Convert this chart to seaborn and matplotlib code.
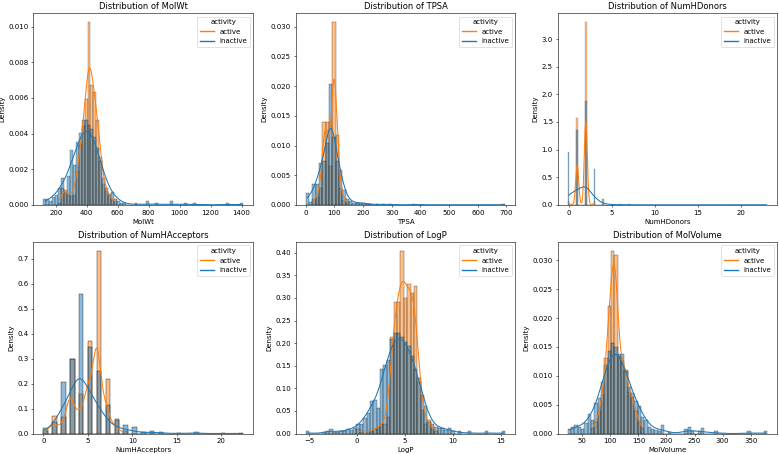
import numpy as np
import matplotlib
matplotlib.use("Agg")
import matplotlib.pyplot as plt
from matplotlib.lines import Line2D
import seaborn as sns

# colours of the two activity classes
c_active = "#ff7f0e"
c_inactive = "#1f77b4"

# --- MolWt: 68 bins between 121 and 1411, density per bin
molwt_bins = (121, 1411, 68)
molwt_active = [0, 0, 0, 0, 0, 0.0001, 0.0010, 0.0009, 0.0006, 0.0005,
                0.0006, 0.0020, 0.0035, 0.0046, 0.0062, 0.0107, 0.0070, 0.0066, 0.0050, 0.0028,
                0.0012, 0.0008, 0.0005, 0.0003, 0.0002]
molwt_inactive = [0.0003, 0.0003, 0.0002, 0.0004, 0.0005, 0.0009, 0.0014, 0.0007, 0.0015, 0.0029,
                  0.0021, 0.0033, 0.0038, 0.0045, 0.0045, 0.0042, 0.0040, 0.0036, 0.0030, 0.0023,
                  0.0014, 0.0009, 0.0006, 0.0007, 0.0003, 0.0002, 0.0001, 0.0001, 0, 0,
                  0, 0.0001, 0, 0, 0, 0.0002, 0, 0, 0.0001, 0,
                  0, 0, 0, 0.0002, 0, 0, 0, 0, 0.0001, 0,
                  0, 0.0001, 0, 0, 0, 0, 0, 0, 0, 0,
                  0, 0, 0.0001, 0, 0, 0, 0, 0.0001]

# --- TPSA: 60 bins between 0 and 696
tpsa_bins = (0, 696, 60)
tpsa_active = [0, 0, 0.0010, 0.0015, 0.0030, 0.0150, 0.0150, 0.0070, 0.0330, 0.0127,
               0.0030, 0.0008, 0.0005]
tpsa_inactive = [0.0021, 0.0005, 0.0035, 0.0036, 0.0072, 0.0075, 0.0105, 0.0205, 0.0115, 0.0075,
                 0.0060, 0.0025, 0.0010, 0.0006, 0.0004, 0.0003, 0.0004, 0.0003, 0.0002, 0.0001,
                 0, 0.0002, 0, 0.0001, 0, 0.0002, 0, 0, 0, 0,
                 0, 0, 0.0002, 0, 0, 0, 0, 0, 0, 0,
                 0, 0, 0, 0, 0, 0, 0, 0, 0, 0,
                 0, 0, 0, 0, 0, 0, 0, 0, 0, 0.0001]

# --- NumHDonors: integer counts, bins 0.2 wide
donors_bins = (-0.1, 23.1, 116)
donors_active_x = [0, 1, 2, 3]
donors_active = [0.06, 1.55, 3.25, 0.06]
donors_inactive_x = [0, 1, 2, 3, 4, 5, 6, 7, 10, 23]
donors_inactive = [0.95, 1.35, 1.87, 0.64, 0.10, 0.02, 0.01, 0.02, 0.005, 0.005]

# --- NumHAcceptors: integer counts, bins 0.5 wide
acc_bins = (0, 22.5, 45)
acc_active_x = [0, 1, 2, 3, 4, 5, 6, 7, 8, 9]
acc_active = [0.01, 0.07, 0.065, 0.30, 0.16, 0.37, 0.73, 0.22, 0.06, 0.01]
acc_inactive_x = [0, 1, 2, 3, 4, 5, 6, 7, 8, 9, 10, 11, 12, 13, 15, 17, 20, 22]
acc_inactive = [0.022, 0.045, 0.205, 0.30, 0.56, 0.345, 0.25, 0.115, 0.055, 0.035,
                0.025, 0.005, 0.012, 0.008, 0.003, 0.008, 0.002, 0.002]

# --- LogP: 59 bins between -5.35 and 15.5
logp_bins = (-5.35, 15.5, 59)
logp_active = [0, 0, 0, 0, 0, 0, 0, 0, 0, 0,
               0, 0, 0, 0, 0, 0.01, 0.005, 0, 0.005, 0.005,
               0.01, 0.015, 0.02, 0.02, 0.035, 0.207, 0.28, 0.28, 0.39, 0.29,
               0.32, 0.30, 0.315, 0.11, 0.05, 0.02, 0.03, 0.01, 0.005]
logp_inactive = [0.005, 0, 0, 0, 0, 0.003, 0.005, 0.01, 0.003, 0.003,
                 0.005, 0.005, 0.01, 0.008, 0.012, 0.02, 0.02, 0.035, 0.045, 0.07,
                 0.073, 0.055, 0.14, 0.15, 0.16, 0.205, 0.22, 0.22, 0.21, 0.20,
                 0.19, 0.17, 0.14, 0.12, 0.085, 0.06, 0.025, 0.02, 0.015, 0.012,
                 0.012, 0.008, 0.012, 0.005, 0, 0.005, 0, 0, 0.005, 0,
                 0, 0, 0, 0.005, 0, 0, 0, 0, 0.005]

# --- MolVolume: 60 bins between 24 and 380
mv_bins = (24, 380, 60)
mv_active = [0, 0, 0, 0, 0, 0, 0, 0.001, 0.002, 0.004,
             0.007, 0.0135, 0.023, 0.0328, 0.032, 0.014, 0.013, 0.0115, 0.0075, 0.0065,
             0.004, 0.002, 0.001]
mv_inactive = [0.0008, 0.0012, 0.0015, 0.0012, 0.0008, 0.0020, 0.0035, 0.0025, 0.0055, 0.0065,
               0.0095, 0.0125, 0.0150, 0.0165, 0.0158, 0.0145, 0.0145, 0.0115, 0.0085, 0.0075,
               0.0060, 0.0050, 0.0030, 0.0025, 0.0012, 0.0008, 0.0006, 0.0005, 0.0015, 0,
               0.0003, 0, 0, 0, 0, 0.0008, 0.0012, 0.0004, 0, 0.0004,
               0.0010, 0, 0, 0, 0.0005, 0, 0, 0, 0, 0,
               0, 0, 0, 0, 0.0004, 0, 0, 0, 0, 0.0004]


def grid(lo, hi, n):
    edges = np.linspace(lo, hi, n + 1)
    return edges.tolist(), (edges[:-1] + edges[1:]) / 2


def draw(ax, name, edges, xa, da, xi, di, bw_a, bw_i):
    xa, da = np.asarray(xa, float), np.asarray(da, float)
    xi, di = np.asarray(xi, float), np.asarray(di, float)
    ka, ki = da > 0, di > 0
    sns.histplot(x=xa[ka], weights=da[ka], bins=edges, stat="density",
                 color=c_active, alpha=0.5, ax=ax)
    sns.histplot(x=xi[ki], weights=di[ki], bins=edges, stat="density",
                 color=c_inactive, alpha=0.5, ax=ax)
    sns.kdeplot(x=xa[ka], weights=da[ka], bw_adjust=bw_a, cut=0,
                color=c_active, ax=ax)
    sns.kdeplot(x=xi[ki], weights=di[ki], bw_adjust=bw_i, cut=0,
                color=c_inactive, ax=ax)
    ax.set_title(f"Distribution of {name}")
    ax.set_xlabel(name)
    ax.set_ylabel("Density")
    handles = [Line2D([], [], color=c_active, lw=2),
               Line2D([], [], color=c_inactive, lw=2)]
    ax.legend(handles, ["active", "inactive"], title="activity", loc="upper right")


fig, axes = plt.subplots(2, 3, figsize=(779 / 50, 454 / 50), dpi=50)

e, m = grid(*molwt_bins)
draw(axes[0, 0], "MolWt", e, m[:len(molwt_active)], molwt_active,
     m[:len(molwt_inactive)], molwt_inactive, 0.5, 0.6)

e, m = grid(*tpsa_bins)
draw(axes[0, 1], "TPSA", e, m[:len(tpsa_active)], tpsa_active,
     m[:len(tpsa_inactive)], tpsa_inactive, 0.5, 0.5)

e, m = grid(*donors_bins)
draw(axes[0, 2], "NumHDonors", e, donors_active_x, donors_active,
     donors_inactive_x, donors_inactive, 0.26, 0.5)

e, m = grid(*acc_bins)
draw(axes[1, 0], "NumHAcceptors", e, acc_active_x, acc_active,
     acc_inactive_x, acc_inactive, 0.33, 0.45)

e, m = grid(*logp_bins)
draw(axes[1, 1], "LogP", e, m[:len(logp_active)], logp_active,
     m[:len(logp_inactive)], logp_inactive, 0.55, 0.5)

e, m = grid(*mv_bins)
draw(axes[1, 2], "MolVolume", e, m[:len(mv_active)], mv_active,
     m[:len(mv_inactive)], mv_inactive, 0.4, 0.5)

fig.subplots_adjust(left=0.043, right=0.998, top=0.971, bottom=0.045,
                    wspace=0.193, hspace=0.193)
fig.savefig("out.png", dpi=50)
